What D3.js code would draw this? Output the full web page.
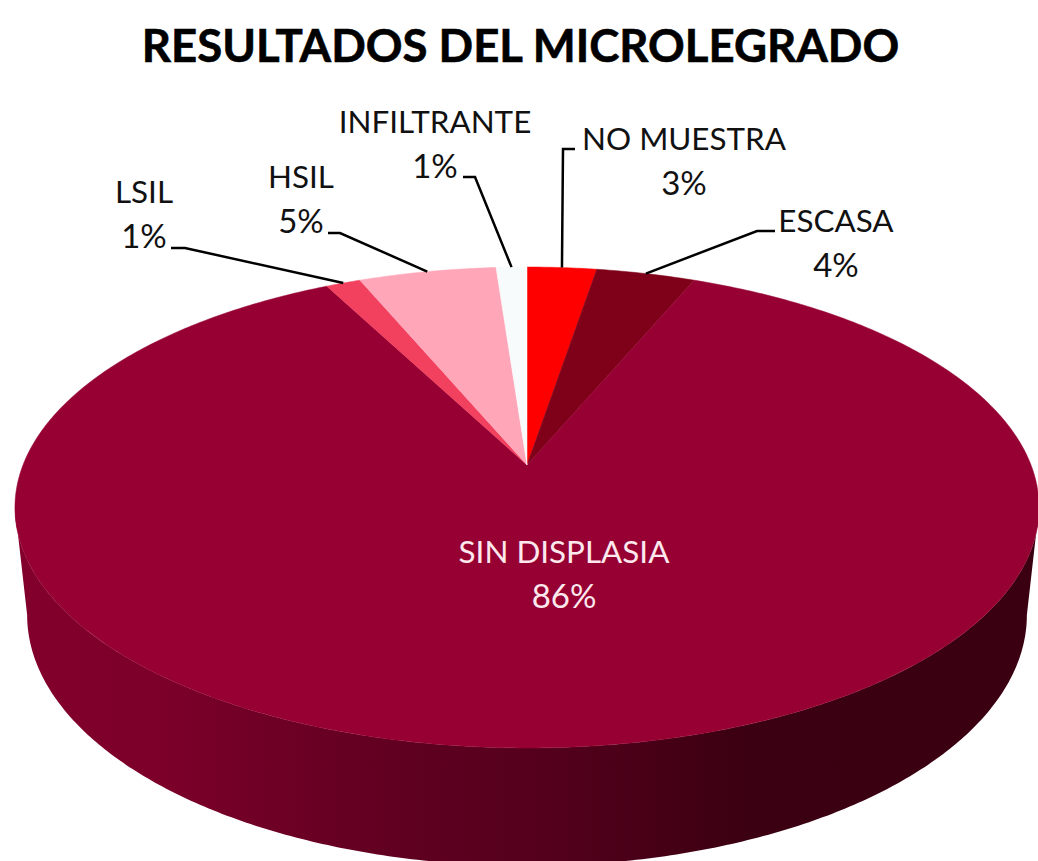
<!DOCTYPE html>
<html>
<head>
<meta charset="utf-8">
<style>
  html, body { margin: 0; padding: 0; background: #fff; overflow: hidden; }
  text { font-family: Lato, "Open Sans", sans-serif; }
</style>
<script src="https://cdn.jsdelivr.net/npm/d3@7"></script>
</head>
<body>
<div id="chart"></div>
<script>
const categories = ["NO MUESTRA", "ESCASA", "SIN DISPLASIA", "LSIL", "HSIL", "INFILTRANTE"];
const shares = [2.6, 3.7, 86.1, 1.3, 5.15, 1.15];
const sliceColors = ["#ff0000", "#7f0019", "#970032", "#f2405f", "#ffa6b9", "#f8fbfb"];

const width = 1038, height = 861;
const svg = d3.select("#chart").append("svg")
    .attr("width", width)
    .attr("height", height)
    .style("display", "block");

// Perspective of the disc: k tilts the near edge towards the viewer
const cx = 527, k = -0.1767;
const topFace = { c: 504, a: 150.8, b: 465 };
const bottomFace = { c: 492, a: 142.3, b: 570.6 };

function project(face, angle) {
    const u = Math.sin(angle), v = -Math.cos(angle);
    const w = 1 + k * v;
    return [cx + face.c * u / w, (face.a * v + face.b) / w];
}

function sampleAngles(start, end) {
    const n = Math.max(2, Math.ceil((end - start) / 0.01));
    return d3.range(n + 1).map(i => start + (end - start) * i / n);
}

const pie = d3.pie().sort(null).value(d => d.share);
const slices = pie(categories.map((name, i) => ({ name, share: shares[i], color: sliceColors[i] })));
const line = d3.line();

// Side wall, lit from the left
const defs = svg.append("defs");
const wall = defs.append("linearGradient")
    .attr("id", "wall")
    .attr("gradientUnits", "userSpaceOnUse")
    .attr("x1", 20).attr("x2", 1030).attr("y1", 0).attr("y2", 0);
[[0, "#82002c"], [0.15, "#7b0029"], [0.3, "#680023"], [0.42, "#5c001f"],
 [0.52, "#54001c"], [0.62, "#480017"], [0.72, "#3b0012"], [1, "#3a0012"]].forEach(s => {
    wall.append("stop").attr("offset", s[0]).attr("stop-color", s[1]);
});

const tangent = Math.acos(k);
const rim = sampleAngles(tangent, 2 * Math.PI - tangent);
svg.append("path")
    .attr("d", line(rim.map(a => project(topFace, a)).concat(rim.slice().reverse().map(a => project(bottomFace, a)))) + "Z")
    .attr("fill", "url(#wall)");

// Top face
const apex = [cx, topFace.b];
svg.selectAll(".slice")
    .data(slices)
    .enter()
    .append("path")
    .attr("class", "slice")
    .attr("d", d => line([apex].concat(sampleAngles(d.startAngle, d.endAngle).map(a => project(topFace, a)))) + "Z")
    .attr("fill", d => d.data.color)
    .attr("stroke", d => d.data.color)
    .attr("stroke-width", 0.5);

// Title
svg.append("text")
    .attr("x", 520.5)
    .attr("y", 62)
    .attr("text-anchor", "middle")
    .attr("font-size", 45.5)
    .attr("font-weight", 700)
    .attr("stroke", "#000")
    .attr("stroke-width", 0.6)
    .attr("fill", "#000")
    .text("RESULTADOS DEL MICROLEGRADO");

// Label placement: text centre, name baseline, and the elbow of the leader line
const labelSpots = {
    "NO MUESTRA": { x: 684, y: 150, from: [575, 149], elbow: [563, 149] },
    "ESCASA": { x: 836, y: 232, from: [775, 231], elbow: [757, 231] },
    "SIN DISPLASIA": { x: 564, y: 563 },
    "LSIL": { x: 144, y: 203, from: [171, 248], elbow: [185, 248] },
    "HSIL": { x: 301, y: 188, from: [328, 233], elbow: [340, 233] },
    "INFILTRANTE": { x: 435, y: 133, from: [463, 177], elbow: [475, 177] }
};

slices.forEach(d => {
    const spot = labelSpots[d.data.name];
    const inside = !spot.from;
    const color = inside ? "#fde8ee" : "#111";

    if (!inside) {
        const end = project(topFace, (d.startAngle + d.endAngle) / 2);
        svg.append("path")
            .attr("d", line([spot.from, spot.elbow, end]))
            .attr("fill", "none")
            .attr("stroke", "#000")
            .attr("stroke-width", 2.5);
    }

    svg.append("text")
        .attr("x", spot.x).attr("y", spot.y)
        .attr("text-anchor", "middle")
        .attr("font-size", 31.4)
        .attr("fill", color)
        .text(d.data.name);

    svg.append("text")
        .attr("x", spot.x).attr("y", spot.y + 45)
        .attr("text-anchor", "middle")
        .attr("font-size", 33)
        .attr("fill", color)
        .text(Math.round(d.data.share) + "%");
});
</script>
</body>
</html>
